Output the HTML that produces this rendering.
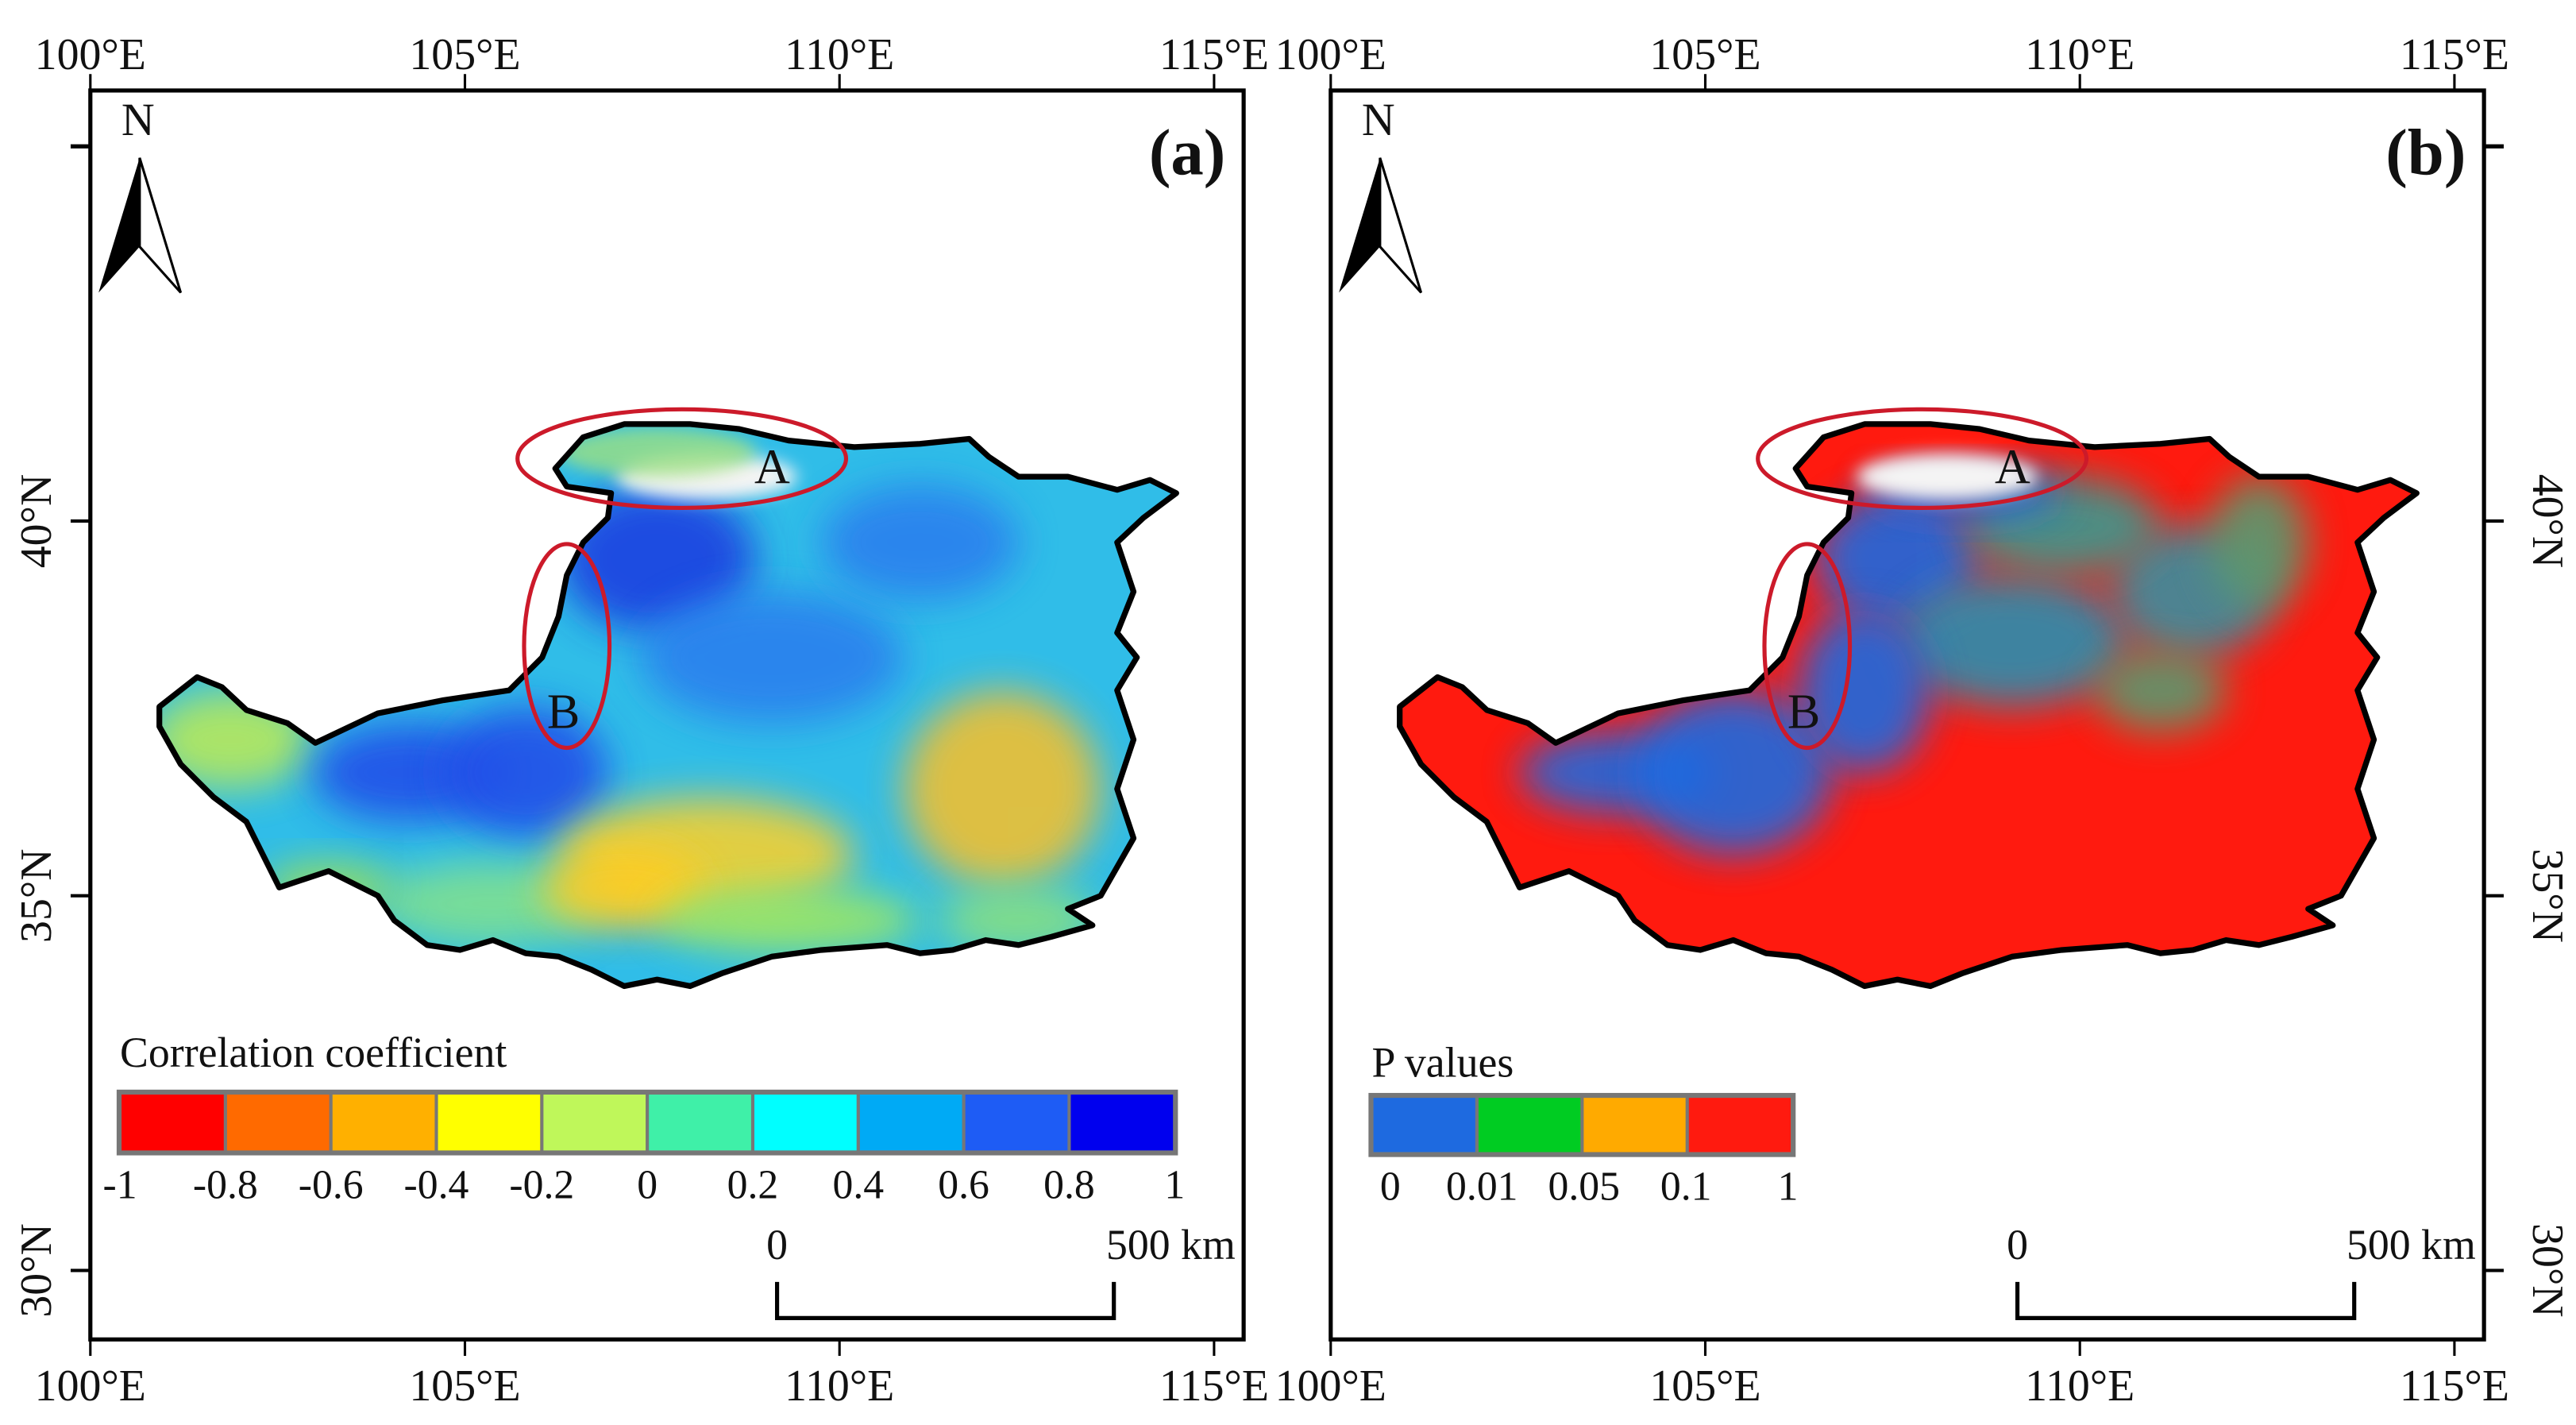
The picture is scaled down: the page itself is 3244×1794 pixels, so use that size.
<!DOCTYPE html>
<html><head><meta charset="utf-8"><style>
html,body{margin:0;padding:0;background:#fff;}
svg{display:block;}
text{font-family:"Liberation Serif",serif;fill:#111;}
</style></head><body>
<svg id="fig" width="3244" height="1794" viewBox="0 0 1568 867" xmlns="http://www.w3.org/2000/svg">
<defs>
<filter id="blur" x="-50%" y="-50%" width="200%" height="200%"><feGaussianBlur stdDeviation="12"/></filter>
<filter id="blur2" x="-50%" y="-50%" width="200%" height="200%"><feGaussianBlur stdDeviation="5"/></filter>
<clipPath id="clipA"><path id="shapeA" d=""/></clipPath>
</defs>
<g id="root"></g>
</svg>
<script>
const NS='http://www.w3.org/2000/svg';
const lonTicks=['100°E','105°E','110°E','115°E'];
const latTicks=['40°N','35°N','30°N'];
const corrColors=['#ff0000','#ff6a00','#ffb000','#ffff00','#bff75a','#3ff0a8','#00ffff','#00aaf5','#1e5cf5','#0000ee'];
const corrLabels=['-1','-0.8','-0.6','-0.4','-0.2','0','0.2','0.4','0.6','0.8','1'];
const pColors=['#1e6ae0','#00cc22','#ffaa00','#ff1a0f'];
const pLabels=['0','0.01','0.05','0.1','1'];
const outline=[[97,430],[120,412],[135,418],[150,432],[175,440],[192,452],[230,434],[270,426],[310,420],[330,400],[340,375],[345,350],[355,330],[370,315],[372,300],[345,296],[338,285],[355,266],[380,258],[420,258],[450,261],[480,268],[520,272],[560,270],[590,267],[602,278],[620,290],[650,290],[680,298],[700,292],[716,300],[696,315],[680,330],[690,360],[680,385],[692,400],[680,420],[690,450],[680,480],[690,510],[670,545],[650,553],[665,563],[640,570],[620,575],[600,572],[580,578],[560,580],[540,575],[500,578],[470,582],[440,592],[420,600],[400,596],[380,600],[360,590],[340,582],[320,580],[300,572],[280,578],[260,575],[240,560],[230,545],[200,530],[170,540],[160,520],[150,500],[130,485],[110,465],[97,442]];
const root=document.getElementById('root');
function el(tag,attrs,parent,txt){const e=document.createElementNS(NS,tag);for(const k in attrs)e.setAttribute(k,attrs[k]);if(txt!==undefined)e.textContent=txt;(parent||root).appendChild(e);return e;}
function pathFrom(dx){return 'M'+outline.map(p=>(p[0]+dx)+','+p[1]).join('L')+'Z';}
document.getElementById('shapeA').setAttribute('d',pathFrom(0));

const panels=[{dx:0,label:'(a)'},{dx:755,label:'(b)'}];
const lonX=i=>55+228*i, latY=i=>317+228*i;

panels.forEach((P,pi)=>{
  const g=el('g',{transform:'translate('+P.dx+',0)'});
  
  
  const fr=el('rect',{x:55,y:55,width:702,height:760,fill:'none',stroke:'#000','stroke-width':2.5},g);
  
  lonTicks.forEach((t,i)=>{
    const x=lonX(i);
    el('line',{x1:x,y1:55,x2:x,y2:45,stroke:'#000','stroke-width':1.5},g);
    el('line',{x1:x,y1:815,x2:x,y2:825,stroke:'#000','stroke-width':1.5},g);
    const a=el('text',{x:x,y:42,'text-anchor':'middle','font-size':27},g,t);
    
    const b=el('text',{x:x,y:852,'text-anchor':'middle','font-size':27},g,t);
    
  });
  const sx=pi?757:55, dir=pi?1:-1;
  el('line',{x1:sx,y1:latY(-1),x2:sx+dir*12,y2:latY(-1),stroke:'#000','stroke-width':2.5},g);
  latTicks.forEach((t,i)=>{
    const y=latY(i);
    el('line',{x1:sx,y1:y,x2:sx+dir*12,y2:y,stroke:'#000','stroke-width':2},g);
    const tx=pi?sx+30:sx-24;
    const l=el('text',{x:tx,y:y,'text-anchor':'middle','font-size':27,transform:'rotate('+(pi?90:-90)+' '+tx+' '+y+')'},g,t);
    
  });
  const pl=el('text',{x:746,y:106,'text-anchor':'end','font-size':40,'font-weight':'bold'},g,P.label);
  
  const na=el('g',{},g);
  el('text',{x:84,y:82,'text-anchor':'middle','font-size':28},na,'N');
  el('polygon',{points:'85,96 60,178 85,150',fill:'#000'},na);
  el('polygon',{points:'85,96 110,178 85,150',fill:'#fff',stroke:'#000','stroke-width':1.5},na);
  const sb=el('g',{},g);
  el('text',{x:473,y:766,'text-anchor':'middle','font-size':26},sb,'0');
  el('text',{x:752,y:766,'text-anchor':'end','font-size':26},sb,'500 km');
  el('polyline',{points:'473,780 473,802 678,802 678,780',fill:'none',stroke:'#000','stroke-width':2.5},sb);
  const mg=el('g',{'clip-path':'url(#clipA)'},g);
  
  const base=pi?'#ff1a0f':'#30bde8';
  el('rect',{x:90,y:250,width:640,height:360,fill:base},mg);
  const blobs=pi?[
    [230,470,60,25,'#1e6ae0'],[300,470,60,50,'#1e6ae0'],[400,340,50,40,'#1e6ae0'],[470,390,70,40,'#2a8fb0'],
    [580,360,50,40,'#3a8fa0'],[380,420,40,50,'#1e6ae0'],[500,320,60,30,'#3a9a90'],[620,330,30,40,'#5a9a70'],[560,420,40,25,'#5a9a70'],[440,300,60,15,'#1e6ae0']
  ]:[
    [140,450,50,30,'#b8e85a'],[250,470,60,30,'#2050e8'],[320,470,50,40,'#2050e8'],[400,340,60,45,'#1a40e0'],
    [470,400,80,40,'#2a80ee'],[560,330,60,35,'#2a80ee'],[430,520,90,35,'#f4d030'],[610,480,60,60,'#f0c030'],
    [300,550,70,25,'#80e090'],[380,540,50,25,'#ffcc20'],[480,560,80,20,'#a0e860'],[620,560,50,20,'#8ae080'],[200,540,40,15,'#a0e050']
  ];
  blobs.forEach(b=>{
    const e=el('ellipse',{cx:b[0],cy:b[1],rx:b[2],ry:b[3],fill:b[4],filter:'url(#blur)',opacity:0.9},mg);
    
  });
  el('ellipse',{cx:430,cy:290,rx:55,ry:14,fill:'#f4f4f4',filter:'url(#blur2)'},mg);
  if(!pi) el('ellipse',{cx:400,cy:275,rx:60,ry:15,fill:'#9ee080',filter:'url(#blur2)',opacity:0.8},mg);
  const ol=el('path',{d:pathFrom(0),fill:'none',stroke:'#000','stroke-width':3.5,'stroke-linejoin':'round'},g);
  
  const eA=el('ellipse',{cx:415,cy:279,rx:100,ry:30,fill:'none',stroke:'#cc1a2a','stroke-width':2.5},g);
  
  el('text',{x:470,y:294,'text-anchor':'middle','font-size':30},g,'A');
  const eB=el('ellipse',{cx:345,cy:393,rx:26,ry:62,fill:'none',stroke:'#cc1a2a','stroke-width':2.5},g);
  
  el('text',{x:343,y:443,'text-anchor':'middle','font-size':30},g,'B');
  const lg=el('g',{},g);
  const cols=pi?pColors:corrColors, labs=pi?pLabels:corrLabels;
  const x0=pi?80:73, w=pi?64:64.2, y0=pi?667:665, h=pi?35:36;
  el('text',{x:x0,y:pi?655:649,'font-size':26},lg,pi?'P values':'Correlation coefficient');
  el('rect',{x:x0-2,y:y0-2,width:cols.length*w+4,height:h+4,fill:'#777'},lg);
  cols.forEach((c,i)=>{
    const r=el('rect',{x:x0+i*w+1,y:y0+1,width:w-2,height:h-2,fill:c},lg);
    
  });
  labs.forEach((t,i)=>{
    const lx=pi?x0+5+i*w*0.97:x0+i*w;
    const tt=el('text',{x:lx,y:y0+h+28,'text-anchor':i===0&&pi?'start':'middle','font-size':25},lg,t);
    
  });
});
</script>
</body></html>
